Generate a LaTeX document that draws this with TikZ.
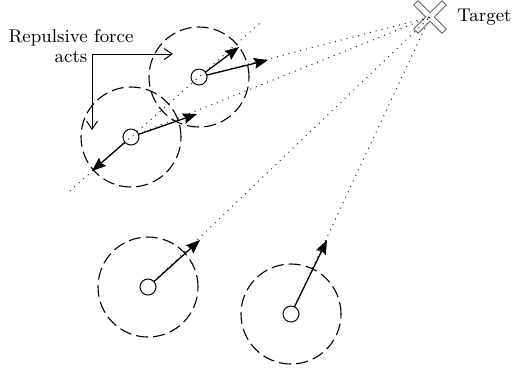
\documentclass[tikz,border=0pt]{standalone}
\usetikzlibrary{arrows.meta, calc, positioning}

\begin{document}
\begin{tikzpicture}[x=0.5pt, y=-0.5pt, font=\fontsize{9.2}{10}\selectfont]
% Styles
\tikzstyle{robot} = [circle, draw=black, line width=0.5pt, minimum size=8pt, inner sep=0pt, fill=white]
\tikzstyle{zone} = [circle, draw=black, line width=0.55pt, dash pattern=on 6pt off 2.6pt, minimum size=50pt, inner sep=0pt]
\tikzstyle{sight} = [line width=0.5pt, dash pattern=on 0.5pt off 2.5pt, black!85]
\tikzstyle{force} = [line width=0.65pt, -{Stealth[length=7pt, width=5.4pt, inset=1pt]}]
\tikzstyle{callout} = [line width=0.5pt, -{Straight Barb[length=4pt, width=5.5pt]}]

\useasboundingbox (0,0) rectangle (513,372);

% Target
\node [coordinate] (target) at (430,17) {};
\draw [black!60, line width=0.45pt, fill=white, shift={(target)}, rotate=45]
  (20,3) -- (3,3) -- (3,20) -- (-3,20) -- (-3,3) -- (-20,3)
  -- (-20,-3) -- (-3,-3) -- (-3,-20) -- (3,-20) -- (3,-3) -- (20,-3) -- cycle;
\node [inner sep=0pt, right=13.5pt of target] (tlabel) {Target};

% Robots and zones
\node [zone] (za) at (199,77) {};
\node [zone] (zb) at (131,137) {};
\node [zone] (zc) at (148,287) {};
\node [zone] (zd) at (291,314) {};
\node [robot] (ra) at (za) {};
\node [robot] (rb) at (zb) {};
\node [robot] (rc) at (zc) {};
\node [robot] (rd) at (zd) {};

% Lines of sight
\draw [sight] (ra) -- (target);
\draw [sight] (rb) -- (target);
\draw [sight] (rc) -- (target);
\draw [sight] (rd) -- (target);
\draw [sight] ($(rb)!-0.9!(ra)$) -- ($(rb)!1.9!(ra)$);

% Force tips
\coordinate (fa) at (268,60);
\coordinate (ga) at (239,47);
\coordinate (fb) at (197,114);
\coordinate (gb) at (92,171);
\coordinate (fc) at (200,240);
\coordinate (fd) at (327,240);

% Forces
\draw [force] (ra) -- (fa);
\draw [force] (ra) -- (ga);
\draw [force] (rb) -- (fb);
\draw [force] (rb) -- (gb);
\draw [force] (rc) -- (fc);
\draw [force] (rd) -- (fd);

% Callout
\node [align=center, inner sep=0pt] (label) at (71,46) {Repulsive force\\acts};
\coordinate (bend) at (92,54);
\coordinate (hita) at (173,54);
\coordinate (hitb) at (92,130);
\draw [callout] (bend) -- (hita);
\draw [callout] (bend) -- (hitb);
\end{tikzpicture}
\end{document}
